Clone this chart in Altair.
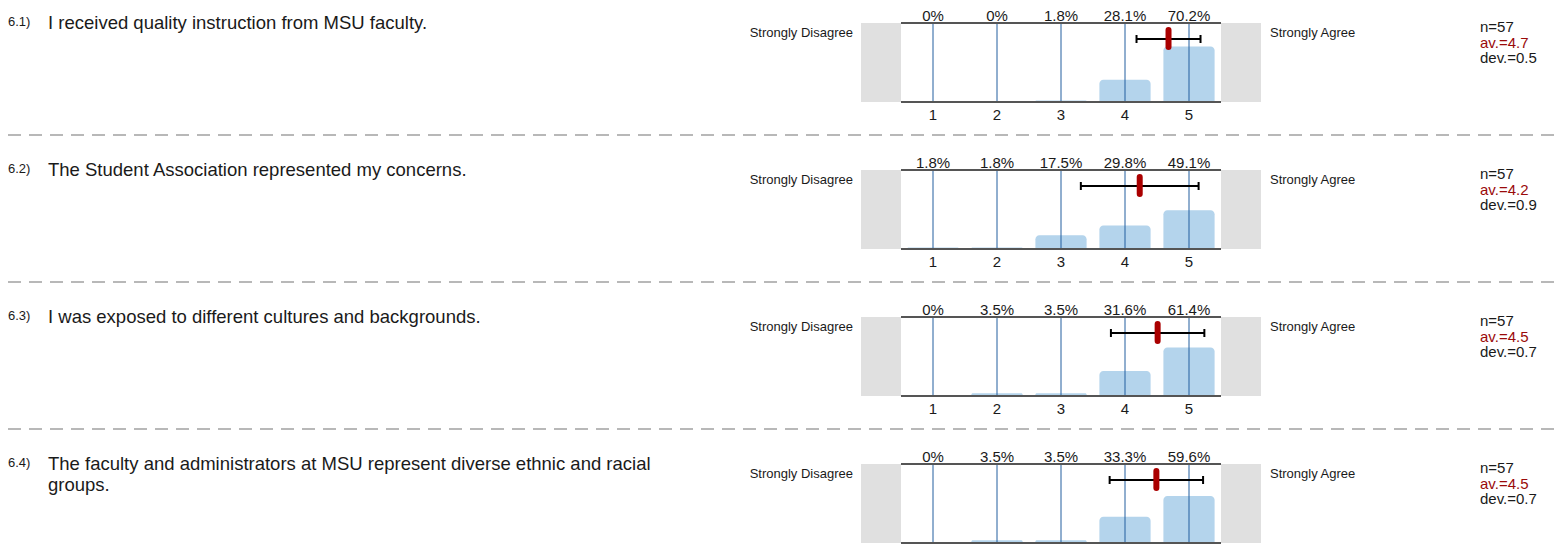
import altair as alt
import pandas as pd

# ---------------- data ----------------
numbers = ["6.1)", "6.2)", "6.3)", "6.4)"]
questions = [
    "I received quality instruction from MSU faculty.",
    "The Student Association represented my concerns.",
    "I was exposed to different cultures and backgrounds.",
    "The faculty and administrators at MSU represent diverse ethnic and racial\ngroups.",
]
scores = [1, 2, 3, 4, 5]
percents = [
    [0, 0, 1.8, 28.1, 70.2],
    [1.8, 1.8, 17.5, 29.8, 49.1],
    [0, 3.5, 3.5, 31.6, 61.4],
    [0, 3.5, 3.5, 33.3, 59.6],
]
n_values = [57, 57, 57, 57]
means = [4.68, 4.23, 4.51, 4.49]
devs = [0.50, 0.92, 0.73, 0.73]
mean_labels = ["4.7", "4.2", "4.5", "4.5"]
dev_labels = ["0.5", "0.9", "0.7", "0.7"]
left_label = "Strongly Disagree"
right_label = "Strongly Agree"

# ---------------- style ----------------
FONT = "Liberation Sans"
BAR = "#b4d4ec"
GRID = "#235f9f"
FRAME = "#555555"
BOX = "#e0e0e0"
RED = "#aa0000"
TXT = "#1a1a1a"

W = 1546
H_TOTAL = 543
ROW = 147

xs = alt.Scale(domain=[0.5, 5.5], range=[893, 1213], nice=False, zero=False)


def row_layers(i):
    off = i * ROW
    ys = alt.Scale(domain=[0, 100], range=[94 + off, 15 + off], nice=False)
    v = lambda px: alt.value(px + off)

    bars = pd.DataFrame({
        "score": scores,
        "pct": percents[i],
        "label": [f"{p:g}%" for p in percents[i]],
        "tick": [str(s) for s in scores],
    })
    bars["lo"] = bars["score"] - 0.4
    bars["hi"] = bars["score"] + 0.4
    bars["top"] = 100
    bars["bot"] = 0
    base = alt.Chart(bars)

    boxes = pd.DataFrame({"x0": [-0.125, 5.5], "x1": [0.5, 6.125], "y0": [0, 0], "y1": [100, 100]})
    frame = pd.DataFrame({"x0": [0.5, 0.5], "x1": [5.5, 5.5], "yv": [0, 100]})
    stat = pd.DataFrame({
        "mean": [means[i]],
        "lo": [means[i] - devs[i]],
        "hi": [means[i] + devs[i]],
        "q": [questions[i]],
        "num": [numbers[i]],
        "n": [f"n={n_values[i]}"],
        "av": [f"av.={mean_labels[i]}"],
        "dev": [f"dev.={dev_labels[i]}"],
        "left": [left_label],
        "right": [right_label],
    })
    st = alt.Chart(stat)

    X = lambda f: alt.X(f, scale=xs, axis=None)
    Y = lambda f: alt.Y(f, scale=ys, axis=None)

    box_layer = alt.Chart(boxes).mark_rect(color=BOX).encode(
        x=X("x0:Q"), x2="x1:Q", y=Y("y1:Q"), y2="y0:Q",
    )
    bar_layer = base.mark_bar(color=BAR, cornerRadiusTopLeft=4, cornerRadiusTopRight=4).encode(
        x=X("lo:Q"), x2="hi:Q", y=Y("pct:Q"), y2="bot:Q",
    )
    grid_layer = base.mark_rule(color=GRID, strokeWidth=1).encode(
        x=X("score:Q"), y=Y("top:Q"), y2="bot:Q",
    )
    frame_layer = alt.Chart(frame).mark_rule(color=FRAME, strokeWidth=2).encode(
        x=X("x0:Q"), x2="x1:Q", y=Y("yv:Q"),
    )
    pct_layer = base.mark_text(font=FONT, fontSize=15, color=TXT, baseline="middle").encode(
        x=X("score:Q"), y=v(7.6), text="label:N",
    )
    tick_layer = base.mark_text(font=FONT, fontSize=15, color=TXT, baseline="middle").encode(
        x=X("score:Q"), y=v(107), text="tick:N",
    )
    err_line = st.mark_rule(color="black", strokeWidth=2).encode(
        x=X("lo:Q"), x2="hi:Q", y=v(31),
    )
    cap_lo = st.mark_rule(color="black", strokeWidth=2).encode(
        x=X("lo:Q"), y=v(27), y2=v(35),
    )
    cap_hi = st.mark_rule(color="black", strokeWidth=2).encode(
        x=X("hi:Q"), y=v(27), y2=v(35),
    )
    mean_tick = st.mark_rule(color=RED, strokeWidth=6, strokeCap="round").encode(
        x=X("mean:Q"), y=v(22), y2=v(39),
    )
    num_text = st.mark_text(font=FONT, fontSize=13, color=TXT, align="left", baseline="middle").encode(
        x=alt.value(0), y=v(14), text="num:N",
    )
    q_text = st.mark_text(font=FONT, fontSize=18.5, color=TXT, align="left", baseline="alphabetic",
                          lineBreak="\n", lineHeight=21).encode(
        x=alt.value(40), y=v(21), text="q:N",
    )
    left_text = st.mark_text(font=FONT, fontSize=13, color=TXT, align="right", baseline="middle").encode(
        x=alt.value(845), y=v(25), text="left:N",
    )
    right_text = st.mark_text(font=FONT, fontSize=13, color=TXT, align="left", baseline="middle").encode(
        x=alt.value(1262), y=v(25), text="right:N",
    )
    n_text = st.mark_text(font=FONT, fontSize=15, color=TXT, align="left", baseline="middle").encode(
        x=alt.value(1472), y=v(19), text="n:N",
    )
    av_text = st.mark_text(font=FONT, fontSize=15, color="#9a0a0a", align="left", baseline="middle").encode(
        x=alt.value(1472), y=v(34.5), text="av:N",
    )
    dev_text = st.mark_text(font=FONT, fontSize=15, color=TXT, align="left", baseline="middle").encode(
        x=alt.value(1472), y=v(50), text="dev:N",
    )
    dash = st.mark_rule(color="#b8b8b8", strokeWidth=2, strokeDash=[13, 8]).encode(
        x=alt.value(0), x2=alt.value(W), y=v(127),
    )

    return [box_layer, bar_layer, grid_layer, frame_layer, pct_layer, tick_layer,
            err_line, cap_lo, cap_hi, mean_tick, num_text, q_text, left_text,
            right_text, n_text, av_text, dev_text, dash]


all_layers = []
for i in range(4):
    all_layers.extend(row_layers(i))

chart = alt.layer(*all_layers).resolve_scale(y="independent").properties(
    width=W,
    height=H_TOTAL,
    padding=0,
    autosize=alt.AutoSizeParams(type="none"),
).configure_view(strokeWidth=0)

chart.save("out.html", embed_options={"renderer": "svg", "actions": False})
